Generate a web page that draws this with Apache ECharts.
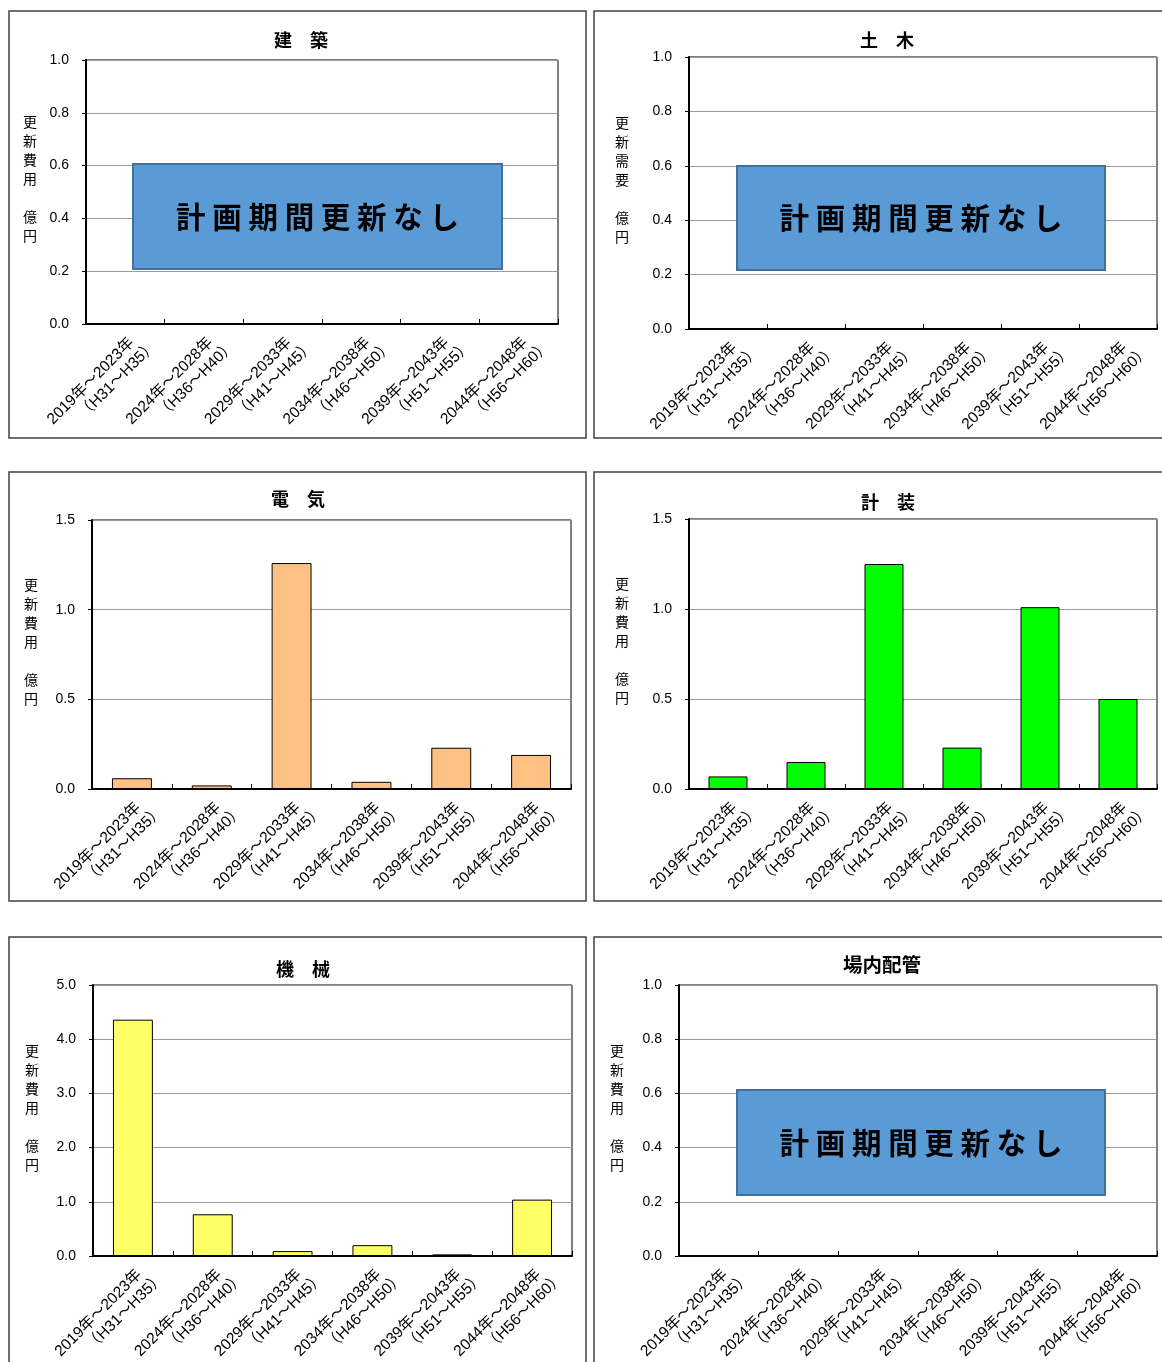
<!DOCTYPE html>
<html>
<head>
<meta charset="utf-8">
<script src="https://cdn.jsdelivr.net/npm/echarts@6/dist/echarts.min.js"></script>
<style>
  html, body { margin: 0; padding: 0; background: #fff; }
  #chart { width: 1162px; height: 1362px; }
</style>
</head>
<body>
<div id="chart"></div>
<script>
// 更新期間（5年ごと）
const yearLabels = ['2019年～2023年', '2024年～2028年', '2029年～2033年', '2034年～2038年', '2039年～2043年', '2044年～2048年'];
const eraLabels = ['（H31～H35）', '（H36～H40）', '（H41～H45）', '（H46～H50）', '（H51～H55）', '（H56～H60）'];

// 工種別の更新費用（億円）
const kenchiku = [0, 0, 0, 0, 0, 0];
const doboku = [0, 0, 0, 0, 0, 0];
const denki = [0.06, 0.02, 1.26, 0.04, 0.23, 0.19];
const keiso = [0.07, 0.15, 1.25, 0.23, 1.01, 0.50];
const kikai = [4.36, 0.77, 0.09, 0.20, 0.03, 1.04];
const jonaiHaikan = [0, 0, 0, 0, 0, 0];

const categories = yearLabels.map((y, i) => y + '\n' + eraLabels[i]);

const FONT = '"Liberation Sans", Arial, "Noto Sans CJK JP", sans-serif';
const CJK = '"Noto Sans CJK JP", sans-serif';

const panels = [
  { title: '建　築', titleSize: 18, data: kenchiku, max: 1.0, interval: 0.2, color: '#5B9BD5', yName: '更新費用', frame: [9, 11, 577, 427], plot: [86, 60, 472, 264], titlePos: [301, 40], nameX: 30, note: [133, 164, 369, 105] },
  { title: '土　木', titleSize: 18, data: doboku, max: 1.0, interval: 0.2, color: '#5B9BD5', yName: '更新需要', frame: [594, 11, 580, 427], plot: [689, 57, 468, 272], titlePos: [887, 40], nameX: 622, note: [737, 166, 368, 104] },
  { title: '電　気', titleSize: 18, data: denki, max: 1.5, interval: 0.5, color: '#FFC183', yName: '更新費用', frame: [9, 472, 577, 429], plot: [92, 520, 479, 269], titlePos: [298, 499], nameX: 31 },
  { title: '計　装', titleSize: 18, data: keiso, max: 1.5, interval: 0.5, color: '#00FF00', yName: '更新費用', frame: [594, 472, 580, 429], plot: [689, 519, 468, 270], titlePos: [888, 502], nameX: 622 },
  { title: '機　械', titleSize: 18, data: kikai, max: 5.0, interval: 1.0, color: '#FFFF66', yName: '更新費用', frame: [9, 937, 577, 440], plot: [93, 985, 479, 271], titlePos: [303, 969], nameX: 32 },
  { title: '場内配管', titleSize: 19.5, data: jonaiHaikan, max: 1.0, interval: 0.2, color: '#5B9BD5', yName: '更新費用', frame: [594, 937, 580, 440], plot: [679, 985, 478, 271], titlePos: [882, 965], nameX: 617, note: [737, 1090, 368, 105] }
];

const grid = [], xAxis = [], yAxis = [], series = [], graphic = [];

panels.forEach((p, i) => {
  const [l, t, w, h] = p.plot;
  // 枠線
  graphic.push({
    type: 'rect', silent: true, z: -1,
    shape: { x: p.frame[0], y: p.frame[1], width: p.frame[2], height: p.frame[3] },
    style: { fill: '#fff', stroke: '#404040', lineWidth: 1.5 }
  });
  // 表題
  graphic.push({
    type: 'text', silent: true,
    x: p.titlePos[0], y: p.titlePos[1],
    style: { text: p.title, align: 'center', verticalAlign: 'middle', fill: '#000', font: 'bold ' + p.titleSize + 'px ' + CJK }
  });
  // 縦軸の単位（縦書き）
  const nameText = (p.yName + '　億円').split('').map(c => c === '　' ? '' : c).join('\n');
  graphic.push({
    type: 'text', silent: true,
    x: p.nameX, y: t + h / 2 - 13,
    style: { text: nameText, align: 'center', verticalAlign: 'middle', fill: '#000', font: '14px ' + CJK, lineHeight: 19 }
  });

  grid.push({
    left: l, top: t, width: w, height: h,
    show: true, borderColor: '#000', borderWidth: 1, backgroundColor: '#fff',
    containLabel: false, outerBoundsMode: 'none'
  });

  xAxis.push({
    type: 'category', gridIndex: i, data: categories,
    axisLine: { lineStyle: { color: '#000', width: 2 } },
    axisTick: { show: true, inside: true, length: 5, lineStyle: { color: '#000', width: 1 } },
    axisLabel: {
      interval: 0, rotate: 45, margin: 10, align: 'right', verticalAlign: 'top',
      color: '#000', fontFamily: FONT, fontSize: 15.5, lineHeight: 18,
      formatter: (v) => {
        const parts = v.split('\n');
        return '{a|' + parts[0] + '}\n{b|' + parts[1] + '}';
      },
      rich: {
        a: { align: 'right', fontFamily: FONT, fontSize: 15.5, lineHeight: 18, color: '#000' },
        b: { align: 'right', fontFamily: FONT, fontSize: 15.5, lineHeight: 18, color: '#000', padding: [0, -14, 0, 0] }
      }
    },
    splitLine: { show: false }
  });

  yAxis.push({
    type: 'value', gridIndex: i, min: 0, max: p.max, interval: p.interval,
    axisLine: { show: true, lineStyle: { color: '#000', width: 2 } },
    axisTick: { show: true, length: 4, lineStyle: { color: '#000' } },
    axisLabel: { margin: 17, color: '#000', fontFamily: FONT, fontSize: 14, formatter: v => v.toFixed(1) },
    splitLine: { show: true, lineStyle: { color: '#9a9a9a', width: 1 } }
  });

  series.push({
    type: 'bar', xAxisIndex: i, yAxisIndex: i, data: p.data,
    barWidth: '50%',
    itemStyle: { color: p.color, borderColor: '#000', borderWidth: 1 },
    silent: true
  });

  // 更新対象なしの注記
  if (p.note) {
    const [nx, ny, nw, nh] = p.note;
    graphic.push({
      type: 'rect', silent: true, z: 100,
      shape: { x: nx, y: ny, width: nw, height: nh },
      style: { fill: '#5B9BD5', stroke: '#41719C', lineWidth: 2 }
    });
    graphic.push({
      type: 'text', silent: true, z: 101,
      x: nx + nw / 2, y: ny + nh / 2,
      style: { text: '計 画 期 間 更 新 な し', align: 'center', verticalAlign: 'middle', fill: '#000', font: 'bold 29.5px ' + CJK }
    });
  }
});

const chart = echarts.init(document.getElementById('chart'), null, { renderer: 'canvas' });
chart.setOption({
  backgroundColor: '#fff',
  animation: false,
  grid, xAxis, yAxis, series, graphic
});
</script>
</body>
</html>
